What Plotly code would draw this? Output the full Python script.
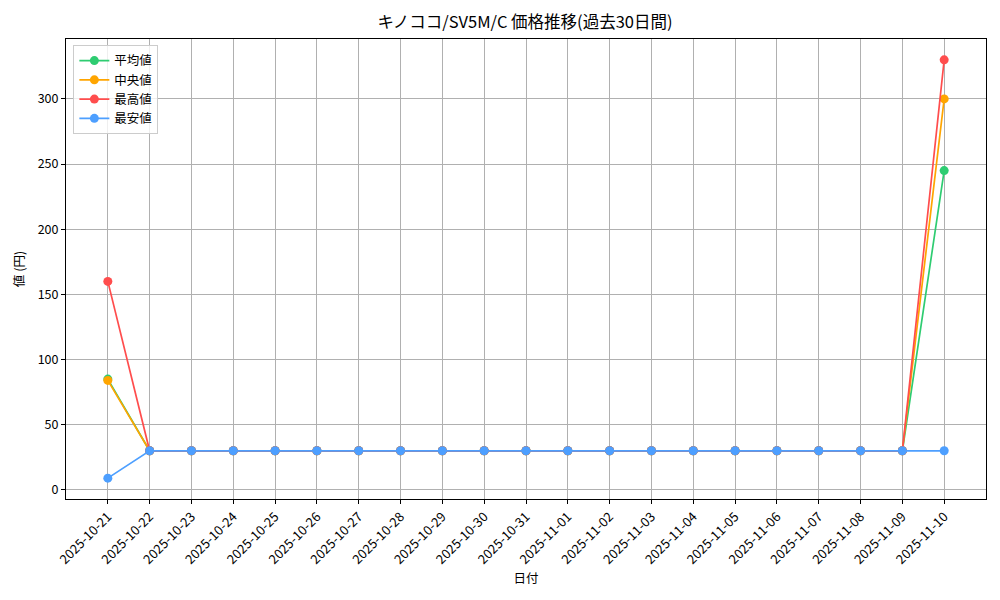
import plotly.graph_objects as go

dates = ["2025-10-21", "2025-10-22", "2025-10-23", "2025-10-24", "2025-10-25",
         "2025-10-26", "2025-10-27", "2025-10-28", "2025-10-29", "2025-10-30",
         "2025-10-31", "2025-11-01", "2025-11-02", "2025-11-03", "2025-11-04",
         "2025-11-05", "2025-11-06", "2025-11-07", "2025-11-08", "2025-11-09",
         "2025-11-10"]
avg_vals = [85] + [30] * 19 + [245]
median_vals = [84] + [30] * 19 + [300]
max_vals = [160] + [30] * 19 + [330]
min_vals = [9] + [30] * 19 + [30]

series = [
    ("平均値", avg_vals, "#2ecc71"),
    ("中央値", median_vals, "#ffa500"),
    ("最高値", max_vals, "#ff4d4d"),
    ("最安値", min_vals, "#4d9fff"),
]

FONT = "Noto Sans CJK JP"
idx = list(range(len(dates)))

fig = go.Figure()
for name, vals, color in series:
    fig.add_trace(go.Scatter(
        x=idx, y=vals, name=name, mode="lines+markers",
        line=dict(color=color, width=1.7),
        marker=dict(color=color, size=9),
    ))

fig.update_layout(
    width=1000, height=600,
    margin=dict(l=58, r=22, t=31, b=109),
    paper_bgcolor="white", plot_bgcolor="white",
    font=dict(family=FONT, size=12, color="black"),
    title=dict(text="キノココ/SV5M/C 価格推移(過去30日間)", x=0.517, xanchor="center",
               xref="container", yref="container",
               y=0.977, yanchor="middle", font=dict(family=FONT, size=16.5)),
    showlegend=True,
    legend=dict(x=0.008, y=0.987, xanchor="left", yanchor="top",
                bgcolor="rgba(255,255,255,0.8)", bordercolor="#cccccc", borderwidth=1,
                font=dict(family=FONT, size=12.5), tracegroupgap=0, itemwidth=30),
)
fig.update_xaxes(
    tickmode="array", tickvals=idx, ticktext=dates, tickangle=-45,
    range=[-1, 21], showgrid=True, gridcolor="#b0b0b0", gridwidth=1,
    showline=True, linecolor="black", linewidth=1, mirror=True,
    ticks="outside", ticklen=4, tickcolor="black", zeroline=False,
    title=dict(text="日付", font=dict(family=FONT, size=12.5), standoff=7),
    tickfont=dict(family=FONT, size=13),
)
fig.update_yaxes(
    range=[-7, 346], tickvals=[0, 50, 100, 150, 200, 250, 300],
    showgrid=True, gridcolor="#b0b0b0", gridwidth=1,
    showline=True, linecolor="black", linewidth=1, mirror=True,
    ticks="outside", ticklen=4, tickcolor="black", zeroline=False,
    title=dict(text="値 (円)", font=dict(family=FONT, size=12.5), standoff=10),
    tickfont=dict(family=FONT, size=12.5),
)

fig.write_html("out.html")
